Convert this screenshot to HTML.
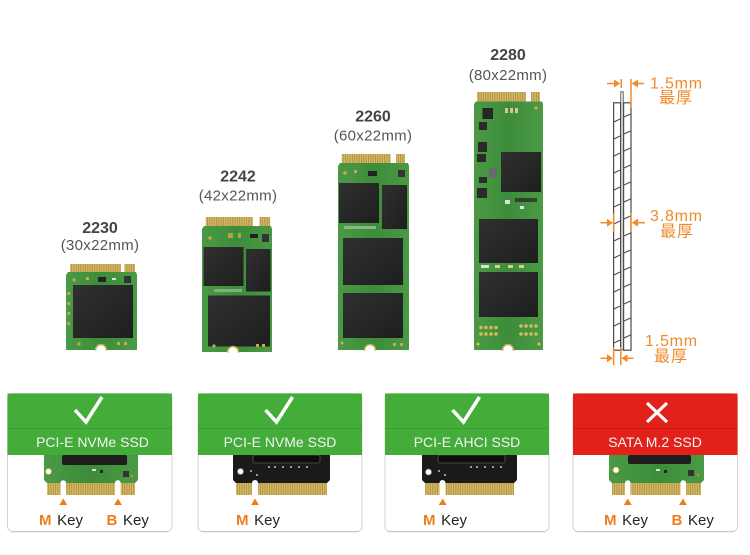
<!DOCTYPE html>
<html><head><meta charset="utf-8"><style>
html,body{margin:0;padding:0;background:#fff;}
svg{display:block;}
text{font-family:"Liberation Sans","Noto Sans CJK SC",sans-serif;}
</style></head><body>
<svg width="750" height="555" viewBox="0 0 750 555" xmlns="http://www.w3.org/2000/svg">
<defs>
<pattern id="gf" x="0" y="0" width="2.3" height="30" patternUnits="userSpaceOnUse"><rect width="2.3" height="30" fill="#d6b965"/><rect width="0.8" height="30" fill="#a98a3d"/></pattern>
<linearGradient id="chip" x1="0" y1="0" x2="1" y2="1"><stop offset="0" stop-color="#303030"/><stop offset="1" stop-color="#1e1e1e"/></linearGradient>
<linearGradient id="pcb" x1="0" y1="0" x2="1" y2="0"><stop offset="0" stop-color="#4a9a45"/><stop offset="0.5" stop-color="#3d8c3a"/><stop offset="1" stop-color="#4a9a45"/></linearGradient>
</defs>

<!-- ===== labels ===== -->
<g text-anchor="middle">
<text x="100" y="233" font-size="16" font-weight="bold" fill="#444">2230</text>
<text x="100" y="250" font-size="15" fill="#555" letter-spacing="0.3">(30x22mm)</text>
<text x="238" y="181.5" font-size="16" font-weight="bold" fill="#444">2242</text>
<text x="238" y="200.5" font-size="15" fill="#555" letter-spacing="0.3">(42x22mm)</text>
<text x="373" y="121.5" font-size="16" font-weight="bold" fill="#444">2260</text>
<text x="373" y="140.5" font-size="15" fill="#555" letter-spacing="0.3">(60x22mm)</text>
<text x="508" y="60" font-size="16" font-weight="bold" fill="#444">2280</text>
<text x="508" y="80" font-size="15" fill="#555" letter-spacing="0.3">(80x22mm)</text>
</g>

<!-- ===== 2230 ===== -->
<g>
<rect x="70" y="264" width="51" height="10" fill="url(#gf)"/>
<rect x="124.5" y="264" width="10.5" height="10" fill="url(#gf)"/>
<path d="M66 275 L68 272 L136 272 L137 275 L137 350 L66 350 Z" fill="url(#pcb)"/>
<rect x="73" y="285" width="60" height="53" fill="url(#chip)"/>
<rect x="98" y="277" width="8" height="5" fill="#222"/>
<rect x="124" y="276" width="7" height="7" fill="#333"/>
<rect x="86" y="277" width="3" height="3" fill="#c9a84f"/>
<rect x="112" y="278" width="4" height="2" fill="#ddd"/>
<circle cx="74" cy="280" r="1.6" fill="#c9a84f"/>
<rect x="67.5" y="292" width="2.5" height="3" fill="#c9a84f"/>
<rect x="67.5" y="302" width="2.5" height="3" fill="#c9a84f"/>
<rect x="67.5" y="312" width="2.5" height="3" fill="#c9a84f"/>
<rect x="67.5" y="322" width="2.5" height="3" fill="#c9a84f"/>
<circle cx="79" cy="344" r="1.6" fill="#c9a84f"/>
<rect x="117" y="342" width="3" height="3" fill="#c9a84f"/>
<rect x="124" y="342" width="3" height="3" fill="#c9a84f"/>
<circle cx="101" cy="350" r="5.5" fill="#fff" stroke="#c9a84f" stroke-width="1.5"/>
<rect x="90" y="350.8" width="22" height="8" fill="#fff"/>
</g>

<!-- ===== 2242 ===== -->
<g>
<rect x="205.7" y="217" width="47.3" height="11" fill="url(#gf)"/>
<rect x="259.5" y="217" width="10.5" height="11" fill="url(#gf)"/>
<path d="M202 229 L204 226 L271 226 L272 229 L272 352 L202 352 Z" fill="url(#pcb)"/>
<rect x="203.5" y="247" width="40" height="39" fill="url(#chip)"/>
<rect x="246" y="249" width="24.5" height="42.5" fill="url(#chip)"/>
<rect x="208" y="295.5" width="62" height="51" fill="url(#chip)"/>
<rect x="228" y="233" width="5" height="5" fill="#c9a84f" opacity="0.8"/>
<rect x="238" y="233" width="3" height="5" fill="#c9a84f" opacity="0.8"/>
<rect x="250" y="234" width="8" height="4" fill="#222"/>
<rect x="262" y="234" width="7" height="8" fill="#333"/>
<circle cx="210" cy="238" r="1.8" fill="#c9a84f"/>
<rect x="214" y="289" width="28" height="3" fill="#7fb07a"/>
<circle cx="214" cy="346" r="1.6" fill="#c9a84f"/>
<rect x="256" y="344" width="3" height="3" fill="#c9a84f"/>
<rect x="262" y="344" width="3" height="3" fill="#c9a84f"/>
<circle cx="233" cy="352" r="5.5" fill="#fff" stroke="#c9a84f" stroke-width="1.5"/>
<rect x="222" y="352.8" width="22" height="8" fill="#fff"/>
</g>

<!-- ===== 2260 ===== -->
<g>
<rect x="341.7" y="154" width="49" height="10" fill="url(#gf)"/>
<rect x="396" y="154" width="9" height="10" fill="url(#gf)"/>
<path d="M338 166 L340 163 L408 163 L409 166 L409 350 L338 350 Z" fill="url(#pcb)"/>
<rect x="339" y="183" width="40" height="40" fill="url(#chip)"/>
<rect x="382" y="185" width="25" height="44" fill="url(#chip)"/>
<rect x="343" y="238" width="60" height="47" fill="url(#chip)"/>
<rect x="343" y="293" width="60" height="45" fill="url(#chip)"/>
<rect x="368" y="171" width="9" height="5" fill="#222"/>
<rect x="398" y="170" width="7" height="7" fill="#333"/>
<circle cx="345" cy="173" r="1.8" fill="#c9a84f"/>
<rect x="354" y="170" width="3" height="3" fill="#c9a84f"/>
<rect x="344" y="226" width="32" height="3" fill="#8ab684"/>
<circle cx="342" cy="343" r="1.6" fill="#c9a84f"/>
<rect x="393" y="343" width="3" height="3" fill="#c9a84f"/>
<rect x="400" y="343" width="3" height="3" fill="#c9a84f"/>
<circle cx="370" cy="350" r="5.5" fill="#fff" stroke="#c9a84f" stroke-width="1.5"/>
<rect x="359" y="350.8" width="22" height="8" fill="#fff"/>
</g>

<!-- ===== 2280 ===== -->
<g>
<rect x="477" y="92" width="49" height="10.5" fill="url(#gf)"/>
<rect x="531" y="92" width="9" height="10.5" fill="url(#gf)"/>
<path d="M474 104 L476 101.5 L542 101.5 L543 104 L543 350 L474 350 Z" fill="url(#pcb)"/>
<rect x="482.5" y="108" width="10.5" height="11" fill="#262626"/>
<rect x="479" y="122" width="8" height="8" fill="#2a2a2a"/>
<rect x="478" y="142" width="9" height="10" fill="#2a2a2a"/>
<rect x="477" y="154" width="9" height="8" fill="#2a2a2a"/>
<rect x="479" y="177" width="8" height="6" fill="#2a2a2a"/>
<rect x="477" y="188" width="10" height="10" fill="#2a2a2a"/>
<rect x="489" y="168" width="8" height="10" fill="#6a6a6a"/>
<rect x="505" y="108" width="3" height="5" fill="#d9c58a"/>
<rect x="510" y="108" width="3" height="5" fill="#d9c58a"/>
<rect x="515" y="108" width="3" height="5" fill="#d9c58a"/>
<circle cx="536" cy="108" r="1.8" fill="#c9a84f"/>
<rect x="501" y="152" width="40" height="40" fill="url(#chip)"/>
<rect x="505" y="200" width="5" height="4" fill="#ddd"/>
<rect x="515" y="198" width="22" height="4" fill="#222" opacity="0.7"/>
<rect x="520" y="206" width="4" height="3" fill="#ddd"/>
<rect x="479" y="219" width="59" height="44" fill="url(#chip)"/>
<rect x="481" y="265" width="8" height="3" fill="#ddd"/>
<rect x="495" y="265" width="5" height="3" fill="#e0c98a"/>
<rect x="508" y="265" width="5" height="3" fill="#e0c98a"/>
<rect x="519" y="265" width="5" height="3" fill="#e0c98a"/>
<rect x="479" y="272" width="59" height="45" fill="url(#chip)"/>
<g fill="#d9b85c">
<circle cx="481" cy="327.5" r="1.8"/><circle cx="486" cy="327.5" r="1.8"/><circle cx="491" cy="327.5" r="1.8"/><circle cx="496" cy="327.5" r="1.8"/>
<circle cx="481" cy="334" r="1.8"/><circle cx="486" cy="334" r="1.8"/><circle cx="491" cy="334" r="1.8"/><circle cx="496" cy="334" r="1.8"/>
<circle cx="521" cy="326" r="1.8"/><circle cx="526" cy="326" r="1.8"/><circle cx="531" cy="326" r="1.8"/><circle cx="536" cy="326" r="1.8"/>
<circle cx="521" cy="334" r="1.8"/><circle cx="526" cy="334" r="1.8"/><circle cx="531" cy="334" r="1.8"/><circle cx="536" cy="334" r="1.8"/>
<circle cx="478" cy="344" r="1.6"/><circle cx="539" cy="344" r="1.6"/>
</g>
<circle cx="508" cy="350" r="5.5" fill="#fff" stroke="#c9a84f" stroke-width="1.5"/>
<rect x="497" y="350.8" width="22" height="8" fill="#fff"/>
</g>

<!-- ===== thickness diagram ===== -->
<g fill="none" stroke="#4a4a4a" stroke-width="1.2">
<rect x="620.8" y="91.8" width="2.4" height="258" fill="#fff" stroke-width="0.9"/>
<rect x="613.6" y="102.8" width="7" height="247.4"/>
<rect x="623.6" y="102.8" width="7.4" height="247.4"/>
<g stroke-width="1">
<line x1="614" y1="122" x2="620" y2="119"/><line x1="614" y1="139" x2="620" y2="136"/><line x1="614" y1="156" x2="620" y2="153"/>
<line x1="614" y1="173" x2="620" y2="170"/><line x1="614" y1="190" x2="620" y2="187"/><line x1="614" y1="207" x2="620" y2="204"/>
<line x1="614" y1="224" x2="620" y2="221"/><line x1="614" y1="241" x2="620" y2="238"/><line x1="614" y1="258" x2="620" y2="255"/>
<line x1="614" y1="275" x2="620" y2="272"/><line x1="614" y1="292" x2="620" y2="289"/><line x1="614" y1="309" x2="620" y2="306"/>
<line x1="614" y1="326" x2="620" y2="323"/><line x1="614" y1="343" x2="620" y2="340"/>
<line x1="624" y1="117" x2="630.5" y2="114"/><line x1="624" y1="134" x2="630.5" y2="131"/><line x1="624" y1="151" x2="630.5" y2="148"/>
<line x1="624" y1="168" x2="630.5" y2="165"/><line x1="624" y1="185" x2="630.5" y2="182"/><line x1="624" y1="202" x2="630.5" y2="199"/>
<line x1="624" y1="219" x2="630.5" y2="216"/><line x1="624" y1="236" x2="630.5" y2="233"/><line x1="624" y1="253" x2="630.5" y2="250"/>
<line x1="624" y1="270" x2="630.5" y2="267"/><line x1="624" y1="287" x2="630.5" y2="284"/><line x1="624" y1="304" x2="630.5" y2="301"/>
<line x1="624" y1="321" x2="630.5" y2="318"/><line x1="624" y1="338" x2="630.5" y2="335"/>
</g>
</g>
<g stroke="#f08a2a" stroke-width="1.5" fill="none">
<line x1="621.3" y1="79" x2="621.3" y2="88"/>
<line x1="631" y1="79" x2="631" y2="108"/>
<line x1="607" y1="83.5" x2="615" y2="83.5"/>
<line x1="637" y1="83.5" x2="644" y2="83.5"/>
<line x1="613.6" y1="213" x2="613.6" y2="232"/>
<line x1="631" y1="213" x2="631" y2="232"/>
<line x1="600.5" y1="222.7" x2="608" y2="222.7"/>
<line x1="637" y1="222.7" x2="645" y2="222.7"/>
<line x1="613.6" y1="347" x2="613.6" y2="365"/>
<line x1="620.8" y1="347" x2="620.8" y2="365"/>
<line x1="600.5" y1="358.3" x2="608" y2="358.3"/>
<line x1="626" y1="358.3" x2="633.5" y2="358.3"/>
</g>
<g fill="#f08a2a">
<polygon points="614,79.5 620.3,83.5 614,87.5"/>
<polygon points="638,79.5 631.7,83.5 638,87.5"/>
<polygon points="607,218.7 613,222.7 607,226.7"/>
<polygon points="638,218.7 631.8,222.7 638,226.7"/>
<polygon points="607,354.3 613,358.3 607,362.3"/>
<polygon points="627.5,354.3 621.5,358.3 627.5,362.3"/>
</g>
<g fill="#f08a2a" font-size="16">
<text x="650" y="88.5" letter-spacing="0.8">1.5mm</text>
<text x="676" y="103" text-anchor="middle" letter-spacing="1">最厚</text>
<text x="650" y="221" letter-spacing="0.8">3.8mm</text>
<text x="677" y="236.5" text-anchor="middle" letter-spacing="1">最厚</text>
<text x="645" y="346" letter-spacing="0.8">1.5mm</text>
<text x="671" y="361.5" text-anchor="middle" letter-spacing="1">最厚</text>
</g>

<!-- ===== cards ===== -->
<!-- card 1 -->
<g>
<rect x="7.5" y="393.5" width="164.5" height="138" rx="5" fill="#fff" stroke="#d4d4d4"/>
<line x1="11" y1="531.8" x2="168" y2="531.8" stroke="#c4c4c4"/>
<path d="M44 455 H138 V480 L135 483 V495 H47 V483 L44 480 Z" fill="url(#pcb)"/>
<rect x="47" y="483" width="88" height="12" fill="url(#gf)"/>
<path d="M60.5 496 V483 A2.75 2.75 0 0 1 66 483 V496 Z" fill="#fff"/>
<path d="M115 496 V483 A2.85 2.85 0 0 1 120.7 483 V496 Z" fill="#fff"/>
<rect x="62" y="455" width="65" height="10" rx="2" fill="#1e1e1e"/>
<circle cx="48.5" cy="471.5" r="3" fill="#fff" stroke="#c9a84f" stroke-width="0.8"/>
<rect x="92" y="469" width="4" height="2" fill="#ddd"/><rect x="100" y="470" width="3" height="3" fill="#222"/>
<rect x="123" y="471" width="6" height="6" fill="#333"/><circle cx="132" cy="476" r="1.2" fill="#e08a2a"/>
<rect x="7.5" y="393.5" width="164.5" height="61.5" fill="#44ad3a"/>
<rect x="7.5" y="428" width="164.5" height="1" fill="#3b9c33"/>
<polyline points="75,410 86,422 102,397" fill="none" stroke="#fff" stroke-width="3.5"/>
<text x="92.5" y="447" font-size="14" fill="#f2f2f2" text-anchor="middle">PCI-E NVMe SSD</text>
<polygon points="59.3,505 67.3,505 63.3,498.5" fill="#f07d1a"/>
<polygon points="114,505 122,505 118,498.5" fill="#f07d1a"/>
<text x="39" y="525" font-size="15"><tspan font-weight="bold" fill="#f07d1a">M</tspan><tspan fill="#222" dx="1.5"> Key</tspan></text>
<text x="106.5" y="525" font-size="15"><tspan font-weight="bold" fill="#f07d1a">B</tspan><tspan fill="#222" dx="1.5"> Key</tspan></text>
</g>

<!-- card 2 -->
<g>
<rect x="198" y="393.5" width="164" height="138" rx="5" fill="#fff" stroke="#d4d4d4"/>
<line x1="201.5" y1="531.8" x2="358.5" y2="531.8" stroke="#c4c4c4"/>
<path d="M233 455 H330 V480 L327 483 V495 H236 V483 L233 480 Z" fill="#1a1a1a"/>
<rect x="236" y="483" width="91" height="12" fill="url(#gf)"/>
<path d="M252 496 V483 A3 3 0 0 1 258 483 V496 Z" fill="#fff"/>
<rect x="253" y="455" width="67" height="8" rx="2" fill="#0e0e0e" stroke="#555" stroke-width="0.8"/>
<circle cx="240.5" cy="471.5" r="3" fill="#fff" stroke="#888" stroke-width="0.8"/>
<g fill="#9a9a9a"><rect x="268" y="466" width="2" height="2"/><rect x="274" y="466" width="2" height="2"/><rect x="282" y="466" width="2" height="2"/><rect x="290" y="466" width="2" height="2"/><rect x="298" y="466" width="2" height="2"/><rect x="306" y="466" width="2" height="2"/><rect x="250" y="470" width="2" height="2"/><rect x="256" y="474" width="2" height="2"/></g>
<rect x="198" y="393.5" width="164" height="61.5" fill="#44ad3a"/>
<rect x="198" y="428" width="164" height="1" fill="#3b9c33"/>
<polyline points="265.5,410 276.5,422 292.5,397" fill="none" stroke="#fff" stroke-width="3.5"/>
<text x="280" y="447" font-size="14" fill="#f2f2f2" text-anchor="middle">PCI-E NVMe SSD</text>
<polygon points="251,505 259,505 255,498.5" fill="#f07d1a"/>
<text x="236" y="525" font-size="15"><tspan font-weight="bold" fill="#f07d1a">M</tspan><tspan fill="#222" dx="1.5"> Key</tspan></text>
</g>

<!-- card 3 -->
<g>
<rect x="385" y="393.5" width="164" height="138" rx="5" fill="#fff" stroke="#d4d4d4"/>
<line x1="388.5" y1="531.8" x2="545.5" y2="531.8" stroke="#c4c4c4"/>
<path d="M422 455 H517 V480 L514 483 V495 H425 V483 L422 480 Z" fill="#1a1a1a"/>
<rect x="425" y="483" width="89" height="12" fill="url(#gf)"/>
<path d="M439.5 496 V483 A3 3 0 0 1 445.5 483 V496 Z" fill="#fff"/>
<rect x="438" y="455" width="67" height="8" rx="2" fill="#0e0e0e" stroke="#555" stroke-width="0.8"/>
<circle cx="428.5" cy="472" r="3" fill="#fff" stroke="#888" stroke-width="0.8"/>
<g fill="#9a9a9a"><rect x="470" y="466" width="2" height="2"/><rect x="476" y="466" width="2" height="2"/><rect x="484" y="466" width="2" height="2"/><rect x="492" y="466" width="2" height="2"/><rect x="500" y="466" width="2" height="2"/><rect x="438" y="470" width="2" height="2"/><rect x="444" y="474" width="2" height="2"/></g>
<rect x="385" y="393.5" width="164" height="61.5" fill="#44ad3a"/>
<rect x="385" y="428" width="164" height="1" fill="#3b9c33"/>
<polyline points="452.5,410 463.5,422 479.5,397" fill="none" stroke="#fff" stroke-width="3.5"/>
<text x="467" y="447" font-size="14" fill="#f2f2f2" text-anchor="middle">PCI-E AHCI SSD</text>
<polygon points="438.7,505 446.7,505 442.7,498.5" fill="#f07d1a"/>
<text x="423" y="525" font-size="15"><tspan font-weight="bold" fill="#f07d1a">M</tspan><tspan fill="#222" dx="1.5"> Key</tspan></text>
</g>

<!-- card 4 -->
<g>
<rect x="573" y="393.5" width="164.5" height="138" rx="5" fill="#fff" stroke="#d4d4d4"/>
<line x1="576.5" y1="531.8" x2="734" y2="531.8" stroke="#c4c4c4"/>
<path d="M609 455 H704 V480 L701 483 V495 H612 V483 L609 480 Z" fill="url(#pcb)"/>
<rect x="612" y="483" width="89" height="12" fill="url(#gf)"/>
<path d="M625 496 V483 A2.75 2.75 0 0 1 630.5 483 V496 Z" fill="#fff"/>
<path d="M680.5 496 V483 A2.75 2.75 0 0 1 686 483 V496 Z" fill="#fff"/>
<rect x="628" y="455" width="63" height="9" rx="2" fill="#1e1e1e"/>
<circle cx="616" cy="470" r="3" fill="#fff" stroke="#c9a84f" stroke-width="0.8"/>
<rect x="656" y="469" width="4" height="2" fill="#ddd"/><rect x="664" y="470" width="3" height="3" fill="#222"/>
<rect x="688" y="470" width="6" height="6" fill="#333"/><circle cx="698" cy="475" r="1.2" fill="#e08a2a"/>
<rect x="573" y="393.5" width="164.5" height="61.5" fill="#e3211b"/>
<rect x="573" y="428" width="164.5" height="1" fill="#c91813"/>
<g stroke="#fff" stroke-width="3.2"><line x1="647" y1="403" x2="667" y2="422"/><line x1="667" y1="403" x2="647" y2="422"/></g>
<text x="655" y="447" font-size="14" fill="#f5f5f5" text-anchor="middle">SATA M.2 SSD</text>
<polygon points="623.7,505 631.7,505 627.7,498.5" fill="#f07d1a"/>
<polygon points="679,505 687,505 683,498.5" fill="#f07d1a"/>
<text x="604" y="525" font-size="15"><tspan font-weight="bold" fill="#f07d1a">M</tspan><tspan fill="#222" dx="1.5"> Key</tspan></text>
<text x="671.5" y="525" font-size="15"><tspan font-weight="bold" fill="#f07d1a">B</tspan><tspan fill="#222" dx="1.5"> Key</tspan></text>
</g>
</svg>
</body></html>
